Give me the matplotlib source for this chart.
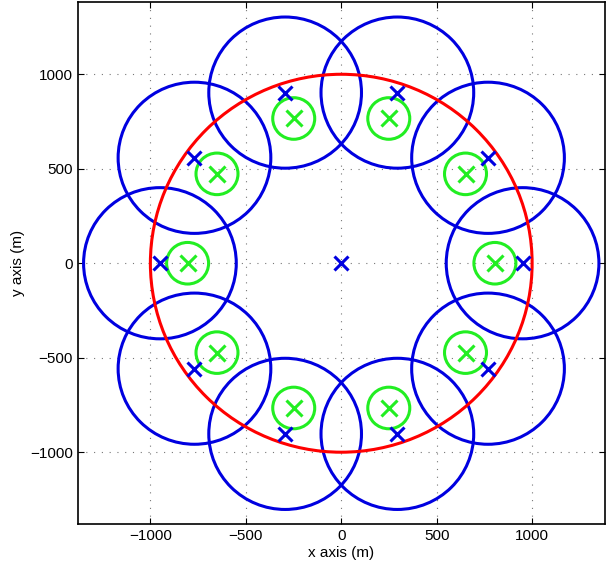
import matplotlib
matplotlib.use("Agg")
import matplotlib.pyplot as plt
from matplotlib.patches import Circle

plt.rcParams['font.family'] = ['Liberation Sans', 'DejaVu Sans']

# small cells (blue): centres and radius
cell_x = [950, 769, 294, -294, -769, -950, -769, -294, 294, 769]
cell_y = [0, 558, 903, 903, 558, 0, -558, -903, -903, -558]
cell_r = 400

# users (green): centres and radius
user_x = [805, 651, 249, -249, -651, -805, -651, -249, 249, 651]
user_y = [0, 473, 766, 766, 473, 0, -473, -766, -766, -473]
user_r = 110

# macro cell (red)
macro_x, macro_y = 0, 0
macro_r = 1000

ticks = [-1000, -500, 0, 500, 1000]
tick_labels = ["\u22121000", "\u2212500", "0", "500", "1000"]

blue = "#0000e0"
green = "#22ee22"
red = "#ff0000"

fig = plt.figure(figsize=(6.13, 5.71), dpi=100)
ax = fig.add_axes([0.127, 0.0823, 0.860, 0.9147])

for x, y in zip(cell_x, cell_y):
    ax.add_patch(Circle((x, y), cell_r, fill=False, color=blue, lw=2.2))
for x, y in zip(user_x, user_y):
    ax.add_patch(Circle((x, y), user_r, fill=False, color=green, lw=2.2))
ax.add_patch(Circle((macro_x, macro_y), macro_r, fill=False, color=red, lw=2.2))

ax.plot(cell_x + [macro_x], cell_y + [macro_y], 'x', color=blue, ms=10, mew=2.2)
ax.plot(user_x, user_y, 'x', color=green, ms=11, mew=2.2)

ax.set_xlim(-1380, 1382)
ax.set_ylim(-1380, 1384)
ax.set_xticks(ticks)
ax.set_yticks(ticks)
ax.set_xticklabels(tick_labels)
ax.set_yticklabels(tick_labels)
ax.tick_params(direction='in', length=4, labelsize=11, top=True, right=True)
ax.grid(True, linestyle=(0, (1, 6)), color='#777777', linewidth=0.8)
ax.set_axisbelow(True)
for s in ax.spines.values():
    s.set_linewidth(1.2)
ax.set_xlabel("x axis (m)", fontsize=11, labelpad=2)
ax.set_ylabel("y axis (m)", fontsize=11)

fig.savefig("out.png", dpi=100)
